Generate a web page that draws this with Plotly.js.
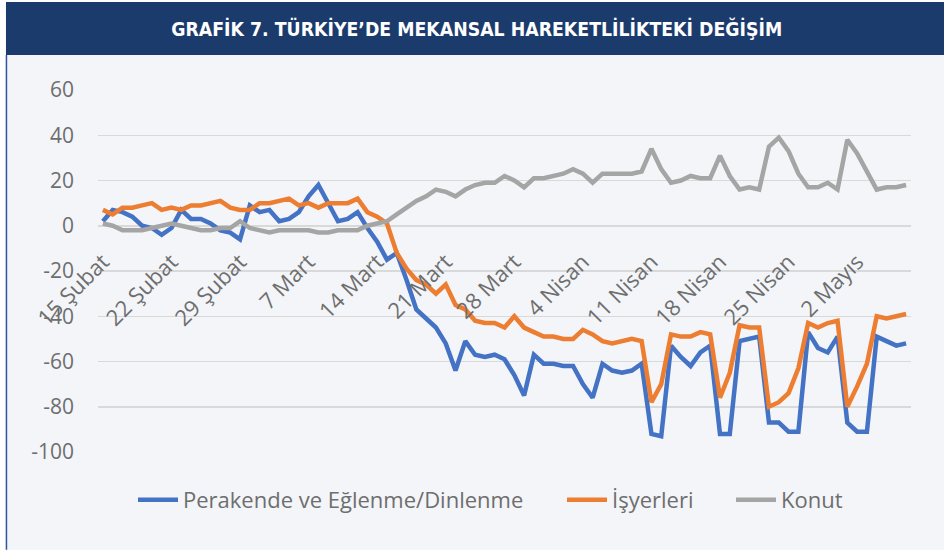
<!DOCTYPE html>
<html>
<head>
<meta charset="utf-8">
<script src="https://cdn.plot.ly/plotly-3.0.1.min.js"></script>
<style>
html,body{margin:0;padding:0;background:#ffffff;}
#chart{width:944px;height:550px;}
</style>
</head>
<body>
<div id="chart"></div>
<script>
const categories = [
  "15 Şubat","16 Şubat","17 Şubat","18 Şubat","19 Şubat","20 Şubat","21 Şubat","22 Şubat","23 Şubat","24 Şubat",
  "25 Şubat","26 Şubat","27 Şubat","28 Şubat","29 Şubat",
  "1 Mart","2 Mart","3 Mart","4 Mart","5 Mart","6 Mart","7 Mart","8 Mart","9 Mart","10 Mart",
  "11 Mart","12 Mart","13 Mart","14 Mart","15 Mart","16 Mart","17 Mart","18 Mart","19 Mart","20 Mart",
  "21 Mart","22 Mart","23 Mart","24 Mart","25 Mart","26 Mart","27 Mart","28 Mart","29 Mart","30 Mart","31 Mart",
  "1 Nisan","2 Nisan","3 Nisan","4 Nisan","5 Nisan","6 Nisan","7 Nisan","8 Nisan","9 Nisan","10 Nisan",
  "11 Nisan","12 Nisan","13 Nisan","14 Nisan","15 Nisan","16 Nisan","17 Nisan","18 Nisan","19 Nisan","20 Nisan",
  "21 Nisan","22 Nisan","23 Nisan","24 Nisan","25 Nisan","26 Nisan","27 Nisan","28 Nisan","29 Nisan","30 Nisan",
  "1 Mayıs","2 Mayıs","3 Mayıs","4 Mayıs","5 Mayıs","6 Mayıs","7 Mayıs"
];

const perakende = [
  2, 7, 6, 4, 0, -1, -4, -1, 7, 3,
  3, 1, -2, -3, -6, 9, 6, 7, 2, 3,
  6, 13, 18, 10, 2, 3, 6, -1, -7, -15,
  -12, -24, -37, -41, -45, -52, -64, -51, -57, -58,
  -57, -59, -66, -75, -57, -61, -61, -62, -62, -70,
  -76, -61, -64, -65, -64, -61, -92, -93, -53, -58,
  -62, -56, -53, -92, -92, -51, -50, -49, -87, -87,
  -91, -91, -47, -54, -56, -49, -87, -91, -91, -49,
  -51, -53, -52
];

const isyerleri = [
  7, 5, 8, 8, 9, 10, 7, 8, 7, 9,
  9, 10, 11, 8, 7, 7, 10, 10, 11, 12,
  9, 10, 8, 10, 10, 10, 12, 6, 4, 1,
  -12, -19, -24, -26, -30, -26, -35, -37, -42, -43,
  -43, -45, -40, -45, -47, -49, -49, -50, -50, -46,
  -48, -51, -52, -51, -50, -51, -78, -70, -48, -49,
  -49, -47, -48, -76, -65, -44, -45, -45, -80, -78,
  -74, -63, -43, -45, -43, -42, -80, -71, -61, -40,
  -41, -40, -39
];

const konut = [
  1, 0, -2, -2, -2, -1, 0, 1, 0, -1,
  -2, -2, -1, -1, 2, -1, -2, -3, -2, -2,
  -2, -2, -3, -3, -2, -2, -2, 0, 1, 2,
  5, 8, 11, 13, 16, 15, 13, 16, 18, 19,
  19, 22, 20, 17, 21, 21, 22, 23, 25, 23,
  19, 23, 23, 23, 23, 24, 34, 25, 19, 20,
  22, 21, 21, 31, 22, 16, 17, 16, 35, 39,
  33, 23, 17, 17, 19, 16, 38, 32, 24, 16,
  17, 17, 18
];

const yTickVals = [-100, -80, -60, -40, -20, 0, 20, 40, 60];
const yTickText = ["-100", "-80", "-60", "-40", "-20", "0", "20", "40", "60"];

const seriesNames = ["Perakende ve Eğlenme/Dinlenme", "İşyerleri", "Konut"];
const seriesColors = ["#4472C4", "#ED7D31", "#A5A5A5"];
const seriesValues = [perakende, isyerleri, konut];
const legendIds = ["legend", "legend2", "legend3"];
const legendLeftPx = [133, 562, 731];

const traces = seriesValues.map((vals, k) => ({
  type: "scatter",
  mode: "lines",
  name: seriesNames[k],
  legend: legendIds[k],
  x: categories,
  y: vals,
  line: {color: seriesColors[k], width: 4.5},
  hoverinfo: "x+y+name"
}));

const textGray = "#6e6e6e";
const fontFam = "'Open Sans', 'Noto Sans', sans-serif";

function legendBox(px) {
  return {
    orientation: "h",
    xref: "container", x: px / 944, xanchor: "left",
    yref: "container", y: 0.091, yanchor: "middle",
    font: {family: fontFam, size: 22, color: textGray},
    bgcolor: "rgba(0,0,0,0)",
    borderwidth: 0,
    itemwidth: 40
  };
}

const layout = {
  width: 944,
  height: 550,
  margin: {l: 98, r: 33, t: 90, b: 98, pad: 0},
  paper_bgcolor: "#ffffff",
  plot_bgcolor: "rgba(0,0,0,0)",
  showlegend: true,
  title: {
    text: "<b>GRAFİK 7. TÜRKİYE’DE MEKANSAL HAREKETLİLİKTEKİ DEĞİŞİM</b>",
    font: {family: "'Liberation Sans Narrow', 'DejaVu Sans Condensed', Roboto, sans-serif", size: 19.3, color: "#ffffff"},
    xref: "container", x: 0.505, xanchor: "center",
    yref: "container", y: 0.947, yanchor: "middle"
  },
  xaxis: {
    type: "category",
    tickmode: "linear",
    tick0: 0,
    dtick: 7,
    tickangle: -45,
    anchor: "free",
    position: 0.625,
    range: [-0.5, 82.5],
    showgrid: false,
    showline: false,
    zeroline: false,
    ticks: "",
    ticklabelstandoff: 18,
    ticklabelshift: 0,
    tickfont: {family: fontFam, size: 22, color: textGray},
    fixedrange: true
  },
  yaxis: {
    range: [-100, 60],
    tickmode: "array",
    tickvals: yTickVals,
    ticktext: yTickText,
    showgrid: true,
    gridcolor: "#d9d9d9",
    gridwidth: 1.5,
    zeroline: false,
    showline: false,
    ticks: "",
    ticklabelstandoff: 23,
    tickfont: {family: fontFam, size: 21, color: textGray},
    fixedrange: true
  },
  legend: legendBox(legendLeftPx[0]),
  legend2: legendBox(legendLeftPx[1]),
  legend3: legendBox(legendLeftPx[2]),
  shapes: [
    {type: "rect", xref: "paper", yref: "paper", layer: "below",
     x0: -0.1132, x1: 1.05, y0: -0.27, y1: 1.0967,
     fillcolor: "#f3f5f9", line: {width: 0}},
    {type: "rect", xref: "paper", yref: "paper", layer: "below",
     x0: -0.1132, x1: 1.05, y0: 1.0967, y1: 1.2431,
     fillcolor: "#1b3b6d", line: {width: 0}},
    {type: "line", xref: "paper", yref: "paper", layer: "below",
     x0: -0.1126, x1: -0.1126, y0: -0.27, y1: 1.0967,
     line: {color: "#2f5597", width: 1.5}}
  ]
};

Plotly.newPlot("chart", traces, layout, {displayModeBar: false, staticPlot: true});
</script>
</body>
</html>
